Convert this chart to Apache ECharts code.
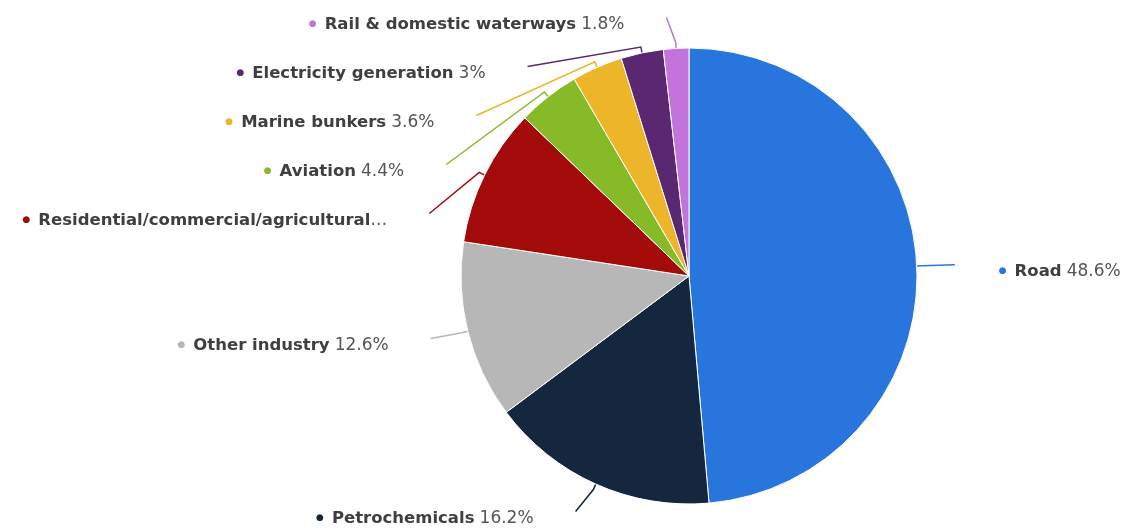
<!DOCTYPE html>
<html>
<head>
<meta charset="utf-8">
<script src="https://cdn.jsdelivr.net/npm/echarts@6/dist/echarts.min.js"></script>
<style>
html, body { margin: 0; padding: 0; background: #fff; }
#main { width: 1132px; height: 531px; }
</style>
</head>
<body>
<div id="main"></div>
<script>
var categories = ['Road', 'Petrochemicals', 'Other industry', 'Residential/commercial/agricultural', 'Aviation', 'Marine bunkers', 'Electricity generation', 'Rail & domestic waterways'];
var shares = [48.6, 16.2, 12.6, 9.8, 4.4, 3.6, 3, 1.8];
var colors = ['#2876dd', '#14273f', '#b7b7b7', '#a30a0a', '#86bb27', '#ecb52a', '#5a2771', '#c374dc'];

var pieCenter = [689, 276];

var chart = echarts.init(document.getElementById('main'));

var data = categories.map(function (name, i) {
	var item = {
		name : name,
		value : shares[i],
		itemStyle : { color : colors[i] },
		label : {
			rich : {
				dot : { color : colors[i], fontSize : 9, padding : [0, 8, 2, 0] }
			}
		},
		labelLine : { lineStyle : { color : colors[i] } }
	};
	// labels that are not stacked sit a bit under their line end
	if (i === 0) {
		item.label.padding = [14, 0, 0, 44];
	} else if (i === 1 || i === 2) {
		item.label.padding = [14, 42, 0, 0];
	}
	return item;
});

chart.setOption({
	animation : false,
	series : [{
			type : 'pie',
			center : pieCenter,
			radius : 228,
			startAngle : 90,
			clockwise : true,
			avoidLabelOverlap : true,
			data : data,
			itemStyle : {
				borderColor : '#fff',
				borderWidth : 1
			},
			label : {
				show : true,
				fontFamily : 'DejaVu Sans',
				fontSize : 16,
				lineHeight : 19,
				padding : [14, 42, 14, 0],
				distanceToLabelLine : 0,
				formatter : function (p) {
					var name = p.name;
					if (name.length > 32) {
						return '{dot|●}{b|' + name + '}{v|…}';
					}
					return '{dot|●}{b|' + name + '} {v|' + p.value + '%}';
				},
				rich : {
					b : { fontFamily : 'DejaVu Sans', fontSize : 16.5, fontWeight : 'bold', color : '#3f3f3f' },
					v : { fontFamily : 'DejaVu Sans', fontSize : 17, color : '#555' }
				}
			},
			labelLine : {
				show : true,
				length : 30,
				length2 : 8,
				smooth : false,
				minTurnAngle : 0,
				maxSurfaceAngle : 180,
				lineStyle : { width : 1.5 }
			},
			// short radial stub, then straight to a point a little above the text
			labelLayout : function (params) {
				var pts = params.labelLinePoints;
				if (!pts || pts.length < 3) {
					return {};
				}
				var p0 = pts[0];
				var dx = p0[0] - pieCenter[0];
				var dy = p0[1] - pieCenter[1];
				var d = Math.sqrt(dx * dx + dy * dy) || 1;
				var stub = [p0[0] + dx / d * 6, p0[1] + dy / d * 6];
				var endY = params.labelRect.y + 16.5;
				return {
					labelLinePoints : [p0, stub, [pts[2][0], endY]]
				};
			}
		}
	]
});
</script>
</body>
</html>
